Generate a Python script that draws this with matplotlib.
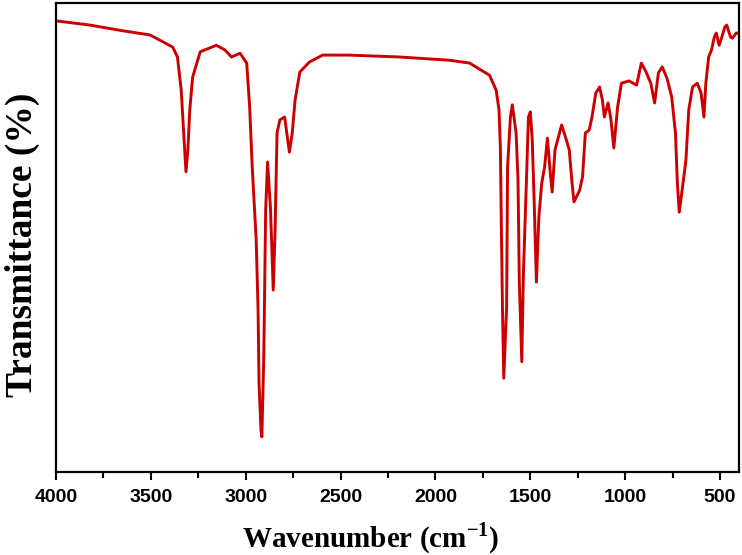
import numpy as np
import matplotlib
matplotlib.use('Agg')
import matplotlib.pyplot as plt

plt.rcParams['mathtext.fontset'] = 'custom'
plt.rcParams['mathtext.rm'] = 'Liberation Serif'
plt.rcParams['mathtext.bf'] = 'Liberation Serif:bold'

# FTIR spectrum
wavenumber = [4000, 3820, 3665, 3505, 3435, 3385, 3360, 3340, 3325, 3315,
              3305, 3295, 3280, 3240, 3155, 3110, 3075, 3030, 2995, 2980,
              2965, 2945, 2935, 2930, 2920, 2915, 2905, 2900, 2895, 2885,
              2870, 2855, 2845, 2835, 2820, 2795, 2770, 2755, 2740, 2715,
              2665, 2595, 2455, 2190, 1925, 1820, 1715, 1680, 1665, 1658,
              1653, 1647, 1640, 1625, 1620, 1605, 1595, 1575, 1565, 1558,
              1545, 1537, 1520, 1510, 1500, 1490, 1480, 1468, 1455, 1440,
              1425, 1410, 1395, 1385, 1370, 1335, 1310, 1295, 1280, 1270,
              1240, 1225, 1210, 1190, 1175, 1155, 1135, 1120, 1110, 1090,
              1075, 1060, 1040, 1020, 980, 940, 915, 890, 865, 845,
              825, 805, 780, 755, 735, 725, 715, 700, 680, 665,
              645, 620, 600, 585, 575, 560, 545, 530, 520, 505,
              490, 475, 465, 445, 435, 415, 405]
transmittance = [96.2, 95.3, 94.2, 93.2, 91.7, 90.6, 88.5, 81.4, 70.8, 64.0,
                 68.7, 77.2, 84.2, 89.6, 91.0, 90.0, 88.5, 89.3, 87.2, 78.3,
                 64.4, 49.5, 34.5, 19.0, 9.0, 7.5, 24.5, 40.3, 55.9, 66.1,
                 56.5, 38.8, 52.2, 72.3, 75.1, 75.7, 68.2, 72.3, 79.3, 85.3,
                 87.4, 88.9, 88.9, 88.5, 87.8, 87.2, 84.6, 81.4, 77.2, 69.3,
                 53.1, 35.2, 20.0, 35.2, 65.0, 75.7, 78.3, 72.3, 62.3, 40.3,
                 23.5, 41.6, 62.9, 75.7, 76.8, 70.8, 58.0, 40.5, 54.4, 61.6,
                 65.0, 71.2, 63.8, 59.7, 68.7, 74.0, 70.8, 68.7, 61.6, 57.6,
                 60.1, 62.9, 72.3, 72.9, 75.7, 80.8, 82.1, 79.3, 75.7, 78.7,
                 75.1, 69.1, 77.8, 82.9, 83.4, 82.5, 87.2, 85.3, 82.9, 78.7,
                 85.1, 86.4, 84.0, 80.0, 72.3, 61.6, 55.4, 60.1, 66.5, 77.2,
                 82.1, 82.9, 80.8, 75.7, 82.9, 88.5, 90.0, 92.8, 93.6, 91.0,
                 92.8, 94.9, 95.3, 92.8, 92.5, 93.6, 93.6]

fig = plt.figure(figsize=(7.42, 5.55), dpi=100)
ax = fig.add_axes([0.0755, 0.1495, 0.9205, 0.845])

ax.plot(wavenumber, transmittance, color='#cc0000', lw=2.1)

ax.set_xlim(4000, 400)
ax.set_ylim(0, 100)
ax.set_xticks(np.arange(4000, 400, -500))
ax.set_xticks(np.arange(3750, 400, -500), minor=True)
ax.set_yticks([])

for s in ax.spines.values():
    s.set_linewidth(1.6)
ax.tick_params(axis='x', which='major', direction='out', length=6, width=1.5, pad=6)
ax.tick_params(axis='x', which='minor', direction='out', length=4, width=1.5)
for lab in ax.get_xticklabels():
    lab.set_fontfamily('Liberation Sans')
    lab.set_fontweight('bold')
    lab.set_fontsize(14)

ax.set_xlabel(r'Wavenumber (cm$^{\mathbf{-1}}$)', family='Liberation Serif',
              fontweight='bold', fontsize=21)
ax.xaxis.set_label_coords(0.461, -0.103)
ax.set_ylabel('Transmittance (%)', family='Liberation Serif',
              fontweight='bold', fontsize=27)
ax.yaxis.set_label_coords(-0.023, 0.484)

fig.savefig('out.png', dpi=100)
